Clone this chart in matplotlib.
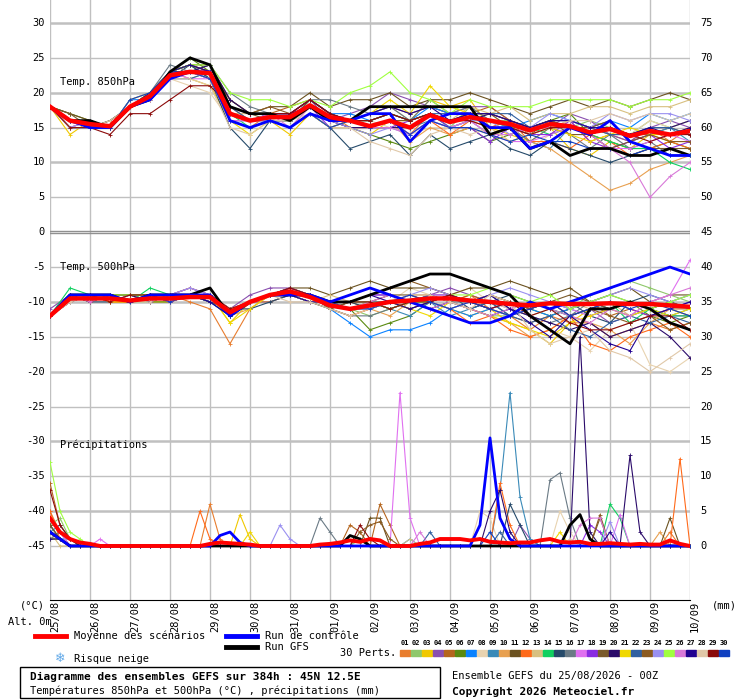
import matplotlib
matplotlib.use("Agg")
import matplotlib.pyplot as plt
from matplotlib.lines import Line2D
from matplotlib.patches import Rectangle

# 12h steps for temperatures, 6h steps for precipitation
days = ["25/08", "26/08", "27/08", "28/08", "29/08", "30/08", "31/08", "01/09",
        "02/09", "03/09", "04/09", "05/09", "06/09", "07/09", "08/09", "09/09", "10/09"]

member_colors = ["#E87D2E", "#8FC86B", "#F0C800", "#8A4FB0", "#B5651D", "#5A8A10",
                 "#0A82FF", "#E8D3B0", "#3A8AB8", "#E8A050", "#6B5220", "#FF6A1A",
                 "#D8C080", "#10D060", "#254A6A", "#6A7A85", "#E070F0", "#8A2BE2",
                 "#7A5A2A", "#2A0A6A", "#F0D800", "#3060A0", "#8B5A20", "#9A90F0",
                 "#A0FF40", "#D878D8", "#200090", "#E0C8A8", "#8B0A0A", "#1040C0"]

mean850 = [18, 16, 15.5, 15.2, 18, 19.5, 22.5, 23, 22.8, 17, 16, 16.5, 16.5, 18.2, 16.5, 16, 15.2,
           16, 15, 16.8, 15.8, 16.5, 16, 15.5, 14.6, 15.5, 15.2, 14.3, 14.8, 13.8, 14.5, 14, 14.5]
ctrl850 = [18, 16, 15, 15, 18, 19, 22, 23, 23, 16, 15, 16, 15, 17, 16, 16, 17, 17, 13, 16, 17, 17, 15, 15, 12, 13, 15, 14, 16, 13, 12, 11, 11]
gfs850 = [18, 16, 16, 15, 18, 19, 23, 25, 24, 18, 17, 17, 16, 18, 16, 16, 18, 18, 18, 18, 18, 18, 14, 15, 12, 13, 11, 12, 12, 11, 11, 12, 11]
perts850 = [
    [18, 15, 16, 15, 18, 20, 23, 24, 22, 16, 15, 17, 16, 18, 17, 15, 15, 16, 14, 17, 16, 17, 15, 16, 14, 15, 16, 13, 14, 13, 15, 13, 15],
    [18, 16, 15, 15, 18, 19, 22, 23, 23, 18, 17, 17, 16, 19, 17, 16, 16, 17, 16, 17, 15, 18, 16, 16, 15, 16, 15, 16, 15, 14, 16, 15, 16],
    [18, 14, 16, 15, 19, 20, 23, 22, 21, 16, 15, 16, 14, 17, 15, 15, 14, 16, 16, 19, 18, 19, 15, 14, 13, 15, 12, 11, 13, 12, 14, 13, 13],
    [18, 15, 15, 15, 18, 19, 22, 23, 24, 18, 16, 17, 17, 19, 16, 17, 18, 20, 19, 18, 17, 18, 18, 16, 15, 15, 17, 16, 14, 13, 15, 16, 15],
    [18, 16, 16, 15, 18, 20, 23, 24, 23, 19, 17, 17, 18, 19, 17, 16, 17, 18, 17, 18, 17, 17, 18, 16, 15, 16, 16, 15, 14, 14, 14, 15, 14],
    [18, 17, 16, 15, 18, 19, 23, 25, 23, 17, 16, 16, 16, 18, 16, 15, 14, 13, 12, 13, 14, 15, 13, 14, 15, 16, 17, 14, 13, 12, 12, 13, 12],
    [18, 16, 15, 15, 19, 19, 22, 23, 22, 17, 16, 17, 16, 19, 17, 17, 16, 17, 16, 18, 17, 17, 16, 15, 16, 17, 16, 15, 16, 15, 17, 16, 17],
    [18, 16, 16, 15, 18, 19, 22, 21, 20, 16, 16, 16, 17, 18, 17, 16, 16, 15, 14, 15, 15, 16, 17, 15, 12, 14, 15, 14, 15, 14, 16, 15, 16],
    [18, 15, 15, 16, 18, 20, 23, 23, 22, 16, 16, 17, 16, 18, 16, 16, 15, 16, 15, 16, 15, 16, 14, 15, 13, 12, 15, 14, 16, 13, 14, 15, 13],
    [18, 16, 16, 15, 18, 20, 23, 24, 23, 18, 16, 16, 15, 18, 16, 15, 15, 16, 13, 15, 14, 15, 14, 15, 13, 12, 10, 8, 6, 7, 9, 10, 11],
    [18, 17, 16, 15, 18, 20, 23, 24, 24, 19, 17, 18, 18, 20, 18, 19, 19, 20, 18, 19, 19, 20, 19, 18, 17, 18, 19, 18, 19, 18, 19, 20, 19],
    [18, 15, 16, 15, 18, 19, 22, 23, 22, 16, 15, 16, 16, 18, 16, 16, 15, 16, 14, 16, 14, 16, 15, 16, 13, 13, 12, 14, 13, 11, 12, 13, 12],
    [18, 16, 15, 15, 19, 20, 23, 22, 23, 17, 17, 17, 17, 18, 17, 16, 17, 18, 16, 17, 16, 18, 17, 18, 16, 17, 17, 18, 18, 17, 18, 18, 19],
    [18, 16, 16, 15, 18, 19, 23, 24, 22, 17, 15, 16, 16, 18, 16, 16, 16, 17, 16, 17, 15, 16, 16, 15, 15, 14, 15, 14, 13, 12, 12, 10, 9],
    [18, 15, 15, 16, 18, 19, 22, 24, 22, 15, 12, 16, 15, 17, 15, 12, 13, 14, 11, 14, 12, 13, 14, 12, 11, 13, 12, 11, 10, 11, 12, 11, 11],
    [18, 16, 16, 15, 18, 20, 24, 23, 24, 20, 18, 17, 17, 19, 19, 18, 17, 18, 16, 19, 17, 18, 16, 15, 13, 15, 14, 12, 14, 12, 13, 11, 11],
    [18, 15, 16, 15, 18, 19, 23, 22, 22, 16, 16, 16, 15, 17, 16, 15, 15, 16, 14, 16, 15, 16, 14, 13, 13, 14, 15, 14, 12, 12, 13, 14, 13],
    [18, 16, 15, 15, 18, 19, 22, 23, 22, 17, 16, 17, 17, 18, 15, 16, 15, 15, 16, 17, 15, 15, 13, 15, 14, 14, 16, 13, 12, 13, 14, 12, 13],
    [18, 17, 15, 15, 18, 19, 23, 24, 23, 18, 17, 16, 16, 19, 17, 16, 15, 16, 16, 17, 16, 17, 17, 15, 14, 16, 14, 14, 12, 13, 12, 12, 12],
    [18, 16, 15, 15, 18, 19, 23, 23, 24, 19, 17, 17, 17, 18, 16, 15, 15, 15, 15, 17, 16, 16, 17, 16, 15, 16, 15, 14, 15, 14, 15, 15, 16],
    [18, 16, 16, 15, 18, 20, 22, 23, 22, 16, 14, 16, 15, 17, 15, 16, 17, 19, 17, 21, 18, 17, 15, 13, 14, 15, 14, 13, 14, 15, 14, 14, 15],
    [18, 15, 15, 15, 18, 19, 22, 22, 23, 18, 16, 16, 16, 18, 16, 16, 16, 17, 16, 17, 17, 17, 17, 17, 15, 16, 16, 15, 14, 14, 15, 15, 14],
    [18, 16, 15, 16, 18, 19, 23, 24, 23, 18, 17, 18, 17, 19, 17, 16, 16, 17, 16, 17, 16, 17, 17, 16, 15, 16, 15, 15, 16, 13, 14, 13, 13],
    [18, 15, 16, 15, 18, 19, 22, 23, 22, 16, 16, 16, 15, 17, 16, 15, 14, 15, 14, 16, 15, 16, 16, 14, 15, 17, 16, 15, 17, 16, 17, 17, 16],
    [18, 16, 16, 15, 18, 20, 23, 24, 24, 20, 19, 19, 18, 19, 18, 20, 21, 23, 20, 19, 17, 19, 18, 18, 18, 19, 19, 19, 19, 18, 19, 19, 20],
    [18, 16, 15, 15, 18, 19, 22, 23, 22, 16, 16, 17, 15, 18, 16, 16, 15, 15, 14, 16, 15, 16, 14, 14, 15, 15, 15, 14, 12, 10, 5, 8, 10],
    [18, 16, 16, 15, 18, 20, 23, 24, 23, 18, 17, 17, 17, 19, 17, 16, 17, 18, 17, 18, 16, 17, 17, 16, 15, 16, 16, 15, 15, 14, 15, 14, 15],
    [18, 15, 15, 16, 18, 19, 22, 22, 21, 15, 14, 16, 16, 17, 15, 15, 13, 12, 11, 14, 15, 14, 15, 13, 14, 15, 16, 16, 17, 16, 17, 16, 17],
    [18, 15, 15, 14, 17, 17, 19, 21, 21, 18, 17, 17, 17, 19, 17, 16, 16, 17, 16, 17, 16, 16, 15, 15, 14, 15, 15, 14, 15, 14, 13, 14, 14],
    [18, 16, 15, 15, 19, 20, 23, 23, 22, 16, 15, 16, 15, 17, 15, 16, 15, 16, 14, 16, 15, 15, 14, 13, 14, 13, 13, 12, 12, 11, 12, 11, 11],
]

mean500 = [-12, -9.5, -9.5, -9.5, -9.8, -9.5, -9.5, -9.3, -9.3, -11.5, -10, -9, -8.5, -9.3, -10.5, -11, -10.5,
           -10, -9.8, -9.5, -9.5, -9.8, -10, -10.3, -10.5, -10.2, -10.3, -10.3, -10.2, -10.3, -10.3, -10.5, -10.7]
ctrl500 = [-12, -9, -9, -9, -10, -9, -9, -9, -9, -12, -10, -9, -9, -9, -10, -9, -8, -9, -10, -11, -12, -13, -13, -12, -10, -11, -10, -9, -8, -7, -6, -5, -6]
gfs500 = [-12, -9, -9, -9, -10, -9, -9, -9, -8, -12, -10, -9, -9, -9, -10, -10, -9, -8, -7, -6, -6, -7, -8, -9, -12, -14, -16, -11, -11, -10, -11, -13, -14]
perts500 = [
    [-12, -9, -9, -10, -10, -9, -9, -10, -11, -16, -11, -9, -8, -9, -11, -12, -11, -10, -10, -9, -10, -9, -11, -12, -14, -12, -13, -13, -15, -14, -13, -14, -13],
    [-12, -9, -10, -9, -10, -10, -9, -9, -9, -12, -10, -9, -9, -9, -10, -11, -12, -11, -10, -11, -10, -11, -12, -12, -11, -10, -11, -9, -8, -7, -8, -9, -10],
    [-12, -10, -9, -10, -9, -10, -10, -9, -9, -13, -10, -9, -8, -9, -10, -11, -10, -10, -9, -10, -11, -12, -11, -13, -14, -16, -13, -11, -10, -11, -12, -11, -12],
    [-11, -9, -9, -9, -10, -9, -9, -9, -10, -11, -9, -8, -8, -9, -10, -10, -9, -9, -10, -9, -8, -9, -10, -11, -10, -11, -12, -11, -13, -12, -11, -12, -12],
    [-12, -9, -9, -10, -10, -9, -9, -8, -9, -11, -10, -9, -9, -10, -11, -10, -11, -10, -9, -9, -10, -9, -10, -12, -13, -12, -11, -10, -12, -11, -12, -11, -11],
    [-12, -10, -9, -9, -9, -10, -10, -9, -9, -12, -10, -9, -8, -9, -10, -11, -14, -13, -12, -10, -9, -10, -11, -10, -11, -12, -11, -10, -11, -10, -12, -13, -12],
    [-12, -9, -10, -9, -10, -9, -9, -9, -10, -12, -10, -10, -9, -9, -11, -13, -15, -14, -14, -13, -11, -12, -11, -10, -11, -12, -11, -10, -11, -12, -11, -10, -11],
    [-12, -9, -9, -9, -10, -9, -10, -9, -9, -11, -11, -9, -9, -9, -10, -11, -10, -10, -8, -9, -9, -8, -10, -11, -12, -14, -15, -17, -14, -13, -19, -20, -18],
    [-12, -10, -9, -10, -9, -9, -10, -9, -10, -11, -10, -9, -9, -10, -10, -11, -10, -11, -12, -10, -12, -11, -10, -12, -11, -10, -11, -12, -11, -10, -11, -12, -11],
    [-12, -9, -10, -9, -10, -9, -9, -9, -9, -12, -11, -9, -8, -9, -10, -11, -11, -12, -10, -9, -10, -11, -12, -13, -15, -14, -12, -13, -14, -16, -13, -11, -12],
    [-12, -10, -9, -9, -9, -10, -9, -8, -9, -11, -10, -9, -8, -8, -9, -8, -7, -8, -8, -8, -9, -8, -8, -7, -8, -9, -8, -10, -9, -8, -10, -9, -9],
    [-12, -9, -9, -10, -10, -9, -10, -9, -9, -12, -10, -10, -9, -9, -11, -12, -11, -10, -11, -10, -11, -13, -12, -14, -15, -14, -12, -16, -17, -15, -14, -13, -15],
    [-12, -10, -9, -9, -10, -9, -9, -9, -10, -11, -10, -9, -9, -10, -9, -10, -10, -9, -10, -10, -9, -10, -11, -10, -12, -11, -10, -11, -10, -12, -11, -10, -11],
    [-12, -8, -9, -9, -10, -8, -9, -9, -9, -12, -10, -9, -9, -10, -10, -11, -10, -11, -10, -10, -11, -10, -11, -12, -10, -11, -12, -11, -10, -13, -11, -12, -12],
    [-12, -9, -10, -10, -9, -9, -10, -9, -10, -11, -11, -10, -9, -10, -11, -10, -11, -10, -11, -10, -9, -11, -10, -9, -10, -11, -10, -12, -13, -10, -9, -10, -11],
    [-12, -10, -9, -9, -10, -9, -9, -9, -9, -12, -10, -9, -9, -9, -11, -12, -12, -11, -10, -9, -10, -10, -9, -11, -12, -13, -12, -10, -9, -10, -11, -10, -9],
    [-12, -9, -9, -10, -9, -10, -9, -8, -9, -11, -10, -9, -9, -9, -10, -11, -10, -10, -9, -10, -11, -10, -11, -12, -11, -10, -11, -12, -11, -12, -10, -9, -4],
    [-12, -10, -9, -9, -10, -9, -10, -9, -9, -12, -10, -9, -8, -9, -10, -10, -9, -9, -10, -9, -9, -10, -11, -10, -11, -10, -12, -11, -10, -11, -12, -11, -10],
    [-12, -9, -9, -9, -10, -9, -9, -9, -10, -11, -10, -9, -9, -10, -10, -11, -10, -9, -9, -10, -9, -10, -9, -10, -11, -10, -9, -10, -11, -10, -11, -10, -11],
    [-12, -9, -10, -9, -9, -10, -9, -9, -9, -12, -10, -9, -9, -9, -10, -10, -10, -11, -10, -11, -10, -11, -12, -11, -12, -13, -14, -13, -15, -14, -13, -15, -18],
    [-12, -10, -9, -10, -10, -9, -9, -9, -9, -13, -11, -9, -9, -10, -10, -11, -10, -10, -11, -12, -10, -11, -12, -13, -14, -15, -13, -12, -11, -12, -11, -12, -11],
    [-12, -9, -9, -9, -10, -9, -9, -9, -10, -12, -10, -9, -9, -9, -10, -10, -10, -10, -10, -9, -10, -11, -10, -12, -13, -12, -14, -15, -13, -12, -13, -12, -13],
    [-12, -9, -10, -9, -9, -9, -10, -9, -9, -11, -10, -9, -9, -9, -11, -10, -9, -8, -7, -8, -9, -10, -9, -10, -11, -10, -12, -11, -12, -13, -12, -14, -13],
    [-12, -10, -9, -9, -10, -9, -9, -8, -9, -12, -10, -9, -9, -10, -10, -11, -11, -10, -9, -8, -9, -10, -9, -8, -9, -10, -11, -10, -9, -8, -9, -10, -9],
    [-12, -9, -9, -9, -9, -9, -9, -9, -9, -12, -10, -9, -9, -9, -10, -10, -10, -11, -10, -10, -9, -9, -8, -9, -10, -9, -11, -10, -9, -10, -11, -10, -9],
    [-12, -9, -10, -9, -10, -9, -10, -9, -9, -11, -10, -9, -9, -9, -10, -11, -10, -9, -10, -11, -10, -11, -12, -11, -10, -11, -12, -13, -11, -12, -10, -9, -8],
    [-12, -9, -9, -9, -10, -9, -9, -9, -10, -12, -10, -9, -9, -10, -10, -10, -9, -10, -11, -10, -9, -10, -9, -11, -13, -15, -12, -14, -16, -17, -12, -11, -10],
    [-12, -10, -9, -9, -10, -10, -9, -9, -9, -11, -10, -9, -10, -10, -11, -12, -11, -10, -9, -9, -10, -11, -9, -10, -14, -16, -15, -14, -17, -18, -20, -18, -16],
    [-12, -9, -9, -10, -9, -9, -9, -9, -9, -11, -10, -9, -8, -9, -10, -10, -10, -11, -10, -10, -9, -10, -11, -10, -12, -11, -13, -14, -14, -13, -12, -12, -14],
    [-12, -9, -9, -9, -10, -9, -10, -9, -9, -12, -10, -9, -9, -9, -10, -11, -11, -10, -9, -10, -11, -10, -11, -12, -11, -10, -12, -11, -10, -11, -10, -11, -12],
]

# precipitation (mm), 6h steps: mean as full list, others as {step: mm} (0 elsewhere)
mean_pr = [4, 2, 1, 0.5, 0.3, 0, 0, 0, 0, 0,
           0, 0, 0, 0, 0, 0, 0.3, 0.5, 0.4, 0.3,
           0.2, 0, 0, 0, 0, 0, 0, 0.2, 0.3, 0.5,
           0.8, 0.6, 1, 0.8, 0, 0, 0, 0.3, 0.5, 1,
           1, 1, 0.8, 1, 0.6, 0.5, 0.4, 0.5, 0.5, 0.8,
           1, 0.6, 0.5, 0.6, 0.3, 0.3, 0.4, 0.3, 0.2, 0.3,
           0.2, 0.2, 0.8, 0.3, 0]
ctrl_pr = {0: 2, 1: 1, 17: 1.5, 18: 2, 19: 0.5, 43: 3, 44: 15.5, 45: 4, 46: 1}
gfs_pr = {0: 2, 1: 1, 30: 1.5, 31: 1, 52: 3, 53: 4.5, 54: 1}
perts_pr = [
    {0: 5, 1: 2, 2: 1, 16: 6, 17: 1, 62: 2},
    {0: 3, 1: 4, 2: 1, 31: 1},
    {0: 2, 1: 1, 19: 4.5, 20: 1},
    {0: 1, 1: 1, 47: 3, 48: 1},
    {0: 9, 1: 3, 2: 1, 30: 3, 31: 2, 33: 6, 34: 3},
    {0: 2, 1: 1},
    {0: 3, 1: 1, 2: 1, 36: 1},
    {0: 2, 1: 1, 43: 5, 44: 4, 51: 5, 52: 2},
    {0: 2, 1: 3, 2: 1, 45: 8, 46: 22, 47: 7, 48: 1},
    {0: 1, 1: 1, 61: 2},
    {0: 3, 1: 1, 32: 4, 33: 4, 62: 4},
    {0: 5, 1: 1, 15: 5, 16: 1, 45: 9, 46: 3, 63: 12.5},
    {0: 2, 36: 1},
    {0: 1, 1: 1, 56: 6, 57: 4},
    {0: 2, 1: 1, 46: 6, 47: 3},
    {0: 1, 1: 2, 27: 4, 28: 2, 50: 9.5, 51: 10.5, 52: 4},
    {0: 4, 1: 2, 5: 1, 35: 22, 36: 4, 57: 4.5},
    {0: 2, 1: 1, 54: 3, 55: 2},
    {0: 3, 1: 1, 55: 4},
    {0: 2, 1: 1, 44: 5, 45: 8, 46: 2, 53: 30, 54: 2, 58: 13, 59: 2},
    {0: 1, 1: 1, 20: 2, 51: 2},
    {0: 2, 1: 1, 38: 2, 45: 2},
    {0: 2, 1: 1, 31: 2, 32: 3, 33: 3.5, 34: 1, 55: 4.5},
    {0: 2, 1: 1, 23: 3, 24: 1, 56: 3.5},
    {0: 12, 1: 5, 2: 2, 3: 1},
    {0: 4, 1: 2, 37: 2, 53: 3, 54: 4, 55: 4},
    {0: 1, 1: 1, 56: 2},
    {0: 2, 1: 1, 52: 1},
    {0: 8, 1: 3, 2: 1, 31: 3, 32: 1},
    {0: 2, 1: 1, 44: 2},
]

W, H = 740, 700
MONO = "DejaVu Sans Mono"
FS = 7.5
h12 = [12 * i for i in range(33)]
h6 = [6 * i for i in range(65)]


def fx(px):
    return px / W


def fy(py):
    return 1 - py / H


def pr_series(d):
    return [d.get(i, 0) - 45 for i in range(65)]


fig = plt.figure(figsize=(W / 100, H / 100), dpi=100)
ax = fig.add_axes([fx(50), fy(600), fx(690) - fx(50), fy(0) - fy(600)])
ax.set_xlim(0, 384)
ax.set_ylim(30 - 577 / 6.973, 30 + 23 / 6.973)

# grid
for d in range(17):
    ax.axvline(24 * d, color="#c0c0c0", lw=1.0, zorder=0)
for v in range(-45, 31, 5):
    if v == 0:
        ax.axhline(0.15, color="#909090", lw=1.0, zorder=0)
        ax.axhline(-0.15, color="#909090", lw=1.0, zorder=0)
    else:
        ax.axhline(v, color="#c0c0c0", lw=1.8 if v % 10 == 0 else 1.0, zorder=0)

for i in range(30):
    c = member_colors[i]
    kw = dict(color=c, lw=0.8, marker="+", ms=2.5, mew=0.6, zorder=2)
    ax.plot(h12, perts850[i], **kw)
    ax.plot(h12, perts500[i], **kw)
    ax.plot(h6, pr_series(perts_pr[i]), **kw)

for series, hs in [(gfs850, h12), (gfs500, h12), (pr_series(gfs_pr), h6)]:
    ax.plot(hs, series, color="black", lw=2.0, zorder=3)
for series, hs in [(ctrl850, h12), (ctrl500, h12), (pr_series(ctrl_pr), h6)]:
    ax.plot(hs, series, color="#0000ff", lw=2.0, zorder=4)
ax.plot(h12, mean850, color="#ff0000", lw=3.2, zorder=5)
ax.plot(h12, mean500, color="#ff0000", lw=3.2, zorder=5)
ax.plot(h6, [p - 45 for p in mean_pr], color="#ff0000", lw=2.8, zorder=5)

ax.set_xticks([])
ax.set_yticks([])
for s in ["top", "left", "right"]:
    ax.spines[s].set_visible(False)
ax.spines["bottom"].set_color("black")

for v in range(-45, 31, 5):
    ax.text(-3, v, str(v), ha="right", va="center", fontsize=FS, family=MONO,
            transform=ax.transData, clip_on=False)
    ax.text(390, v, str(v + 45), ha="left", va="center", fontsize=FS, family=MONO,
            transform=ax.transData, clip_on=False)

ax.text(6, 21.5, "Temp. 850hPa", fontsize=FS, family=MONO, va="center")
ax.text(6, -5, "Temp. 500hPa", fontsize=FS, family=MONO, va="center")
ax.text(6, -30.5, "Précipitations", fontsize=FS, family=MONO, va="center")

for d, lab in enumerate(days):
    fig.text(fx(50 + 40 * d + 5), fy(601), lab, rotation=90, ha="center", va="top",
             fontsize=FS, family=MONO)

fig.text(fx(20), fy(606), "(°C)", fontsize=FS, family=MONO, va="center")
fig.text(fx(712), fy(606), "(mm)", fontsize=FS, family=MONO, va="center")
fig.text(fx(8), fy(622), "Alt. 0m", fontsize=FS, family=MONO, va="center")

# legend
for x0, y0, c, label in [(35, 636, "#ff0000", "Moyenne des scénarios"),
                         (226, 636, "#0000ff", "Run de contrôle"),
                         (226, 647, "black", "Run GFS")]:
    fig.add_artist(Line2D([fx(x0), fx(x0 + 31)], [fy(y0), fy(y0)], color=c, lw=3.5))
    fig.text(fx(x0 + 39), fy(y0), label, fontsize=FS, family=MONO, va="center")
fig.text(fx(60), fy(659), "❄", fontsize=9, color="#60a8e8", ha="center", va="center",
         family=["DejaVu Sans"])
fig.text(fx(74), fy(659), "Risque neige", fontsize=FS, family=MONO, va="center")
fig.text(fx(396), fy(653), "30 Perts.", fontsize=FS, family=MONO, va="center", ha="right")
for i in range(30):
    x0 = 400 + 11 * i
    fig.add_artist(Rectangle((fx(x0), fy(656)), 10 / W, 6 / H, color=member_colors[i]))
    fig.text(fx(x0 + 5), fy(643), "%02d" % (i + 1), fontsize=5, family=MONO,
             ha="center", va="center", weight="bold")

fig.add_artist(Rectangle((fx(20), fy(698)), 420 / W, 31 / H, fill=False,
                         edgecolor="black", lw=1))
fig.text(fx(30), fy(677), "Diagramme des ensembles GEFS sur 384h : 45N 12.5E",
         fontsize=8, family=MONO, weight="bold", va="center")
fig.text(fx(30), fy(691), "Températures 850hPa et 500hPa (°C) , précipitations (mm)",
         fontsize=FS, family=MONO, va="center")
fig.text(fx(452), fy(676), "Ensemble GEFS du 25/08/2026 - 00Z", fontsize=FS,
         family=MONO, va="center")
fig.text(fx(452), fy(692), "Copyright 2026 Meteociel.fr", fontsize=8, family=MONO,
         weight="bold", va="center")

fig.savefig("out.png", dpi=100)
